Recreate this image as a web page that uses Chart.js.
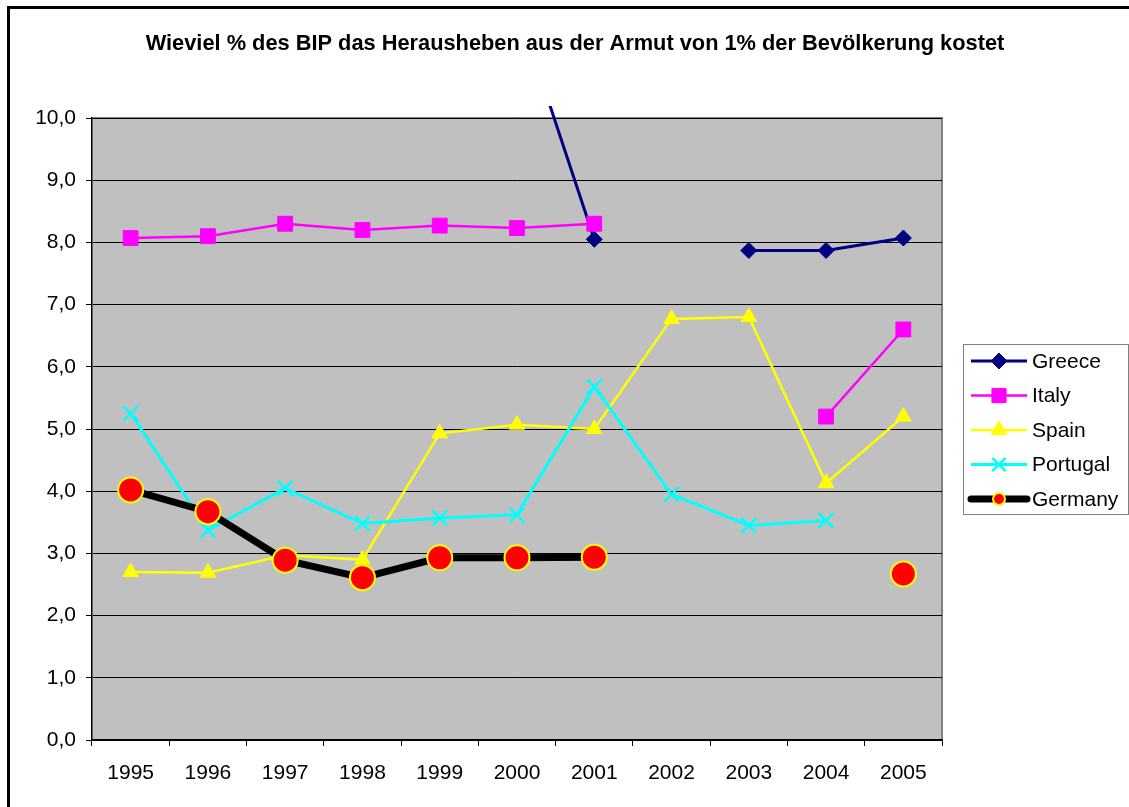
<!DOCTYPE html>
<html lang="de">
<head>
    <meta charset="UTF-8">
    <title>Armut BIP</title>
    <script src="https://cdn.jsdelivr.net/npm/chart.js@4.4.1/dist/chart.umd.min.js"></script>
    <style>
        body { margin: 0; background: #fff; }
        #wrap { position: relative; width: 1129px; height: 807px; }
        #frame { position: absolute; left: 7px; top: 6px; width: 1200px; height: 900px;
                 border-left: 3px solid #000; border-top: 3px solid #000; pointer-events: none; }
    </style>
</head>
<body>
<div id="wrap">
    <canvas id="chart" width="1129" height="807"></canvas>
    <div id="frame"></div>
</div>
<script>
    const years = ['1995','1996','1997','1998','1999','2000','2001','2002','2003','2004','2005'];
    const greece   = [null, null, null, null, null, 11.8, 8.05, null, 7.87, 7.87, 8.07];
    const italy    = [8.07, 8.10, 8.30, 8.20, 8.27, 8.23, 8.30, null, null, 5.20, 6.60];
    const spain    = [2.70, 2.69, 2.97, 2.90, 4.93, 5.07, 5.00, 6.77, 6.80, 4.13, 5.20];
    const portugal = [5.25, 3.37, 4.05, 3.48, 3.57, 3.62, 5.68, 3.95, 3.45, 3.53, null];
    const germany  = [4.02, 3.67, 2.89, 2.61, 2.93, 2.93, 2.94, null, null, null, 2.67];
    const title = 'Wieviel % des BIP das Herausheben aus der Armut von 1% der Bevölkerung kostet';
    const font = '"Liberation Sans", Arial, sans-serif';

    // Excel-artige Fläche, Titel und Legende
    const excelLook = {
        id: 'excelLook',
        beforeDraw(chart) {
            const {ctx, chartArea: a} = chart;
            ctx.save();
            ctx.fillStyle = '#c0c0c0';
            ctx.fillRect(a.left, a.top, a.right - a.left, a.bottom - a.top);
            ctx.strokeStyle = '#808080';
            ctx.lineWidth = 2;
            ctx.beginPath();
            ctx.moveTo(a.left, a.top);
            ctx.lineTo(a.right, a.top);
            ctx.lineTo(a.right, a.bottom);
            ctx.stroke();
            ctx.fillStyle = '#000';
            ctx.font = 'bold 21.8px ' + font;
            ctx.textAlign = 'center';
            ctx.textBaseline = 'middle';
            ctx.fillText(title, 575, 44);
            ctx.restore();
        },
        afterDraw(chart) {
            const ctx = chart.ctx;
            ctx.save();
            ctx.strokeStyle = '#808080';
            ctx.lineWidth = 1;
            ctx.strokeRect(963.5, 344.5, 165, 170);
            chart.data.datasets.forEach((ds, i) => {
                const y = 361 + i * 34.5;
                ctx.strokeStyle = ds.borderColor;
                ctx.lineWidth = ds.borderWidth;
                ctx.lineCap = ds.borderWidth > 4 ? 'round' : 'butt';
                ctx.beginPath();
                ctx.moveTo(971, y);
                ctx.lineTo(1027, y);
                ctx.stroke();
                ctx.fillStyle = ds.pointBackgroundColor;
                ctx.strokeStyle = ds.pointBorderColor;
                ctx.lineWidth = ds.pointBorderWidth;
                Chart.helpers.drawPoint(ctx, {
                    pointStyle: ds.pointStyle, radius: ds.legendRadius, borderWidth: ds.pointBorderWidth
                }, 999, y);
                ctx.fillStyle = '#000';
                ctx.font = '21px ' + font;
                ctx.textAlign = 'left';
                ctx.textBaseline = 'middle';
                ctx.fillText(ds.label, 1032, y + 1);
            });
            ctx.restore();
        }
    };

    new Chart(document.getElementById('chart'), {
        type: 'line',
        data: {
            labels: years,
            datasets: [
                { label: 'Greece', data: greece, borderColor: '#000080', borderWidth: 3,
                  pointStyle: 'rectRot', pointRadius: 8, legendRadius: 8, pointBackgroundColor: '#000080',
                  pointBorderColor: '#000080', pointBorderWidth: 1, order: 5,
                  clip: {left: 0, top: 12, right: 0, bottom: 0} },
                { label: 'Italy', data: italy, borderColor: '#ff00ff', borderWidth: 2.5,
                  pointStyle: 'rect', pointRadius: 10.5, legendRadius: 10, pointBackgroundColor: '#ff00ff',
                  pointBorderColor: '#ff00ff', pointBorderWidth: 1, order: 4 },
                { label: 'Spain', data: spain, borderColor: '#ffff00', borderWidth: 2.5,
                  pointStyle: 'triangle', pointRadius: 9, legendRadius: 9, pointBackgroundColor: '#ffff00',
                  pointBorderColor: '#ffff00', pointBorderWidth: 1, order: 3 },
                { label: 'Portugal', data: portugal, borderColor: '#00ffff', borderWidth: 3,
                  pointStyle: 'crossRot', pointRadius: 10.5, legendRadius: 9.5, pointBackgroundColor: '#00ffff',
                  pointBorderColor: '#00ffff', pointBorderWidth: 2.5, order: 2 },
                { label: 'Germany', data: germany, borderColor: '#000000', borderWidth: 7,
                  pointStyle: 'circle', pointRadius: 12.5, legendRadius: 6, pointBackgroundColor: '#ff0000',
                  pointBorderColor: '#ffff00', pointBorderWidth: 2, order: 1 }
            ]
        },
        options: {
            responsive: false,
            animation: false,
            spanGaps: false,
            layout: { padding: { top: 118, left: 0, right: 187, bottom: 0 } },
            plugins: { legend: { display: false }, title: { display: false }, tooltip: { enabled: false } },
            elements: { line: { tension: 0 } },
            scales: {
                x: {
                    offset: true,
                    grid: { offset: true, drawOnChartArea: false, color: '#000', tickLength: 6, lineWidth: 1 },
                    border: { color: '#000', width: 1.5 },
                    ticks: { color: '#000', font: { family: font, size: 21 }, padding: 15, maxRotation: 0 },
                    afterFit(s) { s.height = 67; }
                },
                y: {
                    min: 0, max: 10,
                    grid: { color: '#000', tickLength: 6, lineWidth: 1 },
                    border: { color: '#000', width: 1.5 },
                    ticks: { stepSize: 1, color: '#000', font: { family: font, size: 21 }, padding: 10,
                             callback: v => v.toFixed(1).replace('.', ',') },
                    afterFit(s) { s.width = 92; }
                }
            }
        },
        plugins: [excelLook]
    });
</script>
</body>
</html>
